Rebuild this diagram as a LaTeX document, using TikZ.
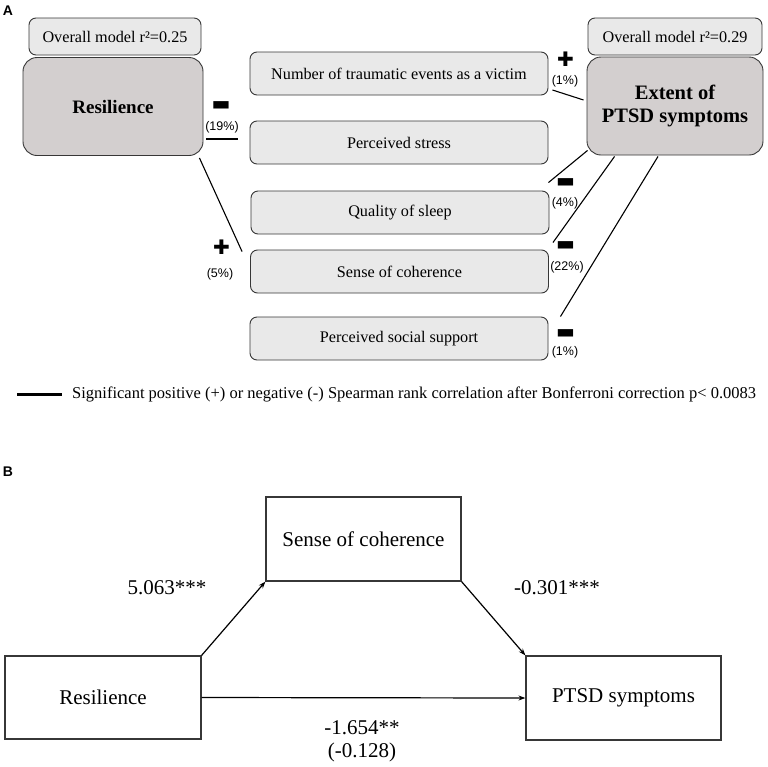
\documentclass[tikz,border=0pt]{standalone}
\usepackage{fontspec}
\setmainfont{Liberation Serif}
\setsansfont{Liberation Sans}
\newfontfamily\dejavu{DejaVu Sans}
\usetikzlibrary{calc,arrows.meta}
\definecolor{lightbox}{RGB}{233,233,233}
\definecolor{bigboxc}{RGB}{211,207,207}
\definecolor{edgegray}{RGB}{55,55,55}
\begin{document}
\begin{tikzpicture}[x=1pt,y=-1pt,
  abox/.style={draw=edgegray,line width=0.9pt,fill=lightbox,rounded corners=7pt,inner sep=0pt,
    font=\fontsize{16.2}{19}\selectfont,minimum height=43pt,minimum width=298pt},
  rbox/.style={draw=edgegray,line width=0.9pt,fill=lightbox,rounded corners=7pt,inner sep=0pt,
    font=\fontsize{16.2}{19}\selectfont,minimum height=37pt},
  bigbox/.style={draw=edgegray,line width=0.9pt,fill=bigboxc,rounded corners=14pt,inner sep=0pt,
    align=center,minimum height=98pt},
  conn/.style={line width=1.1pt},
  pct/.style={font=\sffamily\fontsize{12.5}{14}\selectfont,inner sep=0pt},
  sgn/.style={font=\dejavu\fontsize{20}{20}\selectfont,inner sep=0pt},
  panel/.style={font=\sffamily\bfseries\fontsize{14}{16}\selectfont,inner sep=0pt},
  bbox/.style={draw=edgegray,line width=1.2pt,fill=white,inner sep=0pt,
    font=\fontsize{21}{25}\selectfont,minimum width=195pt,minimum height=84pt},
  blabel/.style={font=\fontsize{21}{25}\selectfont,inner sep=0pt},
  arr/.style={line width=1.2pt,-{Stealth[length=7pt,width=5pt]}}
]
\fill[white] (0,0) rectangle (768,766);
\useasboundingbox (0,0) rectangle (768,766);

% ---------- Panel A ----------
\node[panel] (labA) at (8,11) {A};
\node[rbox,minimum width=172pt] (r1) at (115,36.5) {Overall model r²=0.25};
\node[bigbox,minimum width=180pt,font=\bfseries\fontsize{19}{23}\selectfont] (res) at (113,106.5) {Resilience};
\node[rbox,minimum width=174pt] (r2) at (675,36.5) {Overall model r²=0.29};
\node[bigbox,minimum width=176pt,font=\bfseries\fontsize{20.5}{23}\selectfont] (ptsd) at (675,106) {Extent of\\PTSD symptoms};

\node[abox] (n1) at (399,73.5) {Number of traumatic events as a victim};
\node[abox] (n2) at (399,142.5) {Perceived stress};
\node[abox] (n3) at (400,212.5) {Quality of sleep};
\node[abox] (n4) at (399.5,271.5) {Sense of coherence};
\node[abox] (n5) at (399,338.5) {Perceived social support};

% connectors
\draw[conn] ($(res.east)+(3,32.5)$) -- ($(n2.west)+(-12,-3.5)$);
\draw[conn] ($(res.south east)+(-4,2)$) -- ($(n4.north west)+(-8,2)$);
\draw[conn] ($(n1.east)+(4,16.5)$) -- ($(ptsd.west)+(-3,-6)$);
\draw[conn] ($(ptsd.south west)+(1,-5)$) -- ($(n3.north east)+(-1,-8)$);
\draw[conn] ($(ptsd.south west)+(28,1)$) -- ($(n4.north east)+(4,-7)$);
\draw[conn] ($(ptsd.south)+(-17,1)$) -- ($(n5.north east)+(12,0)$);

% signs and percentages
\node[sgn] (m1) at (221,106) {▬};
\node[pct] (p1) at (222,127) {(19\%)};
\node[sgn] (pl1) at (221.5,247.5) {✚};
\node[pct] (p2) at (220,274) {(5\%)};
\node[sgn] (pl2) at (565.5,59.5) {✚};
\node[pct] (p3) at (565,81) {(1\%)};
\node[sgn] (m2) at (565.5,183) {▬};
\node[pct] (p4) at (565,203) {(4\%)};
\node[sgn] (m3) at (565.5,246) {▬};
\node[pct] (p5) at (567,267) {(22\%)};
\node[sgn] (m4) at (565.5,334) {▬};
\node[pct] (p6) at (565,352) {(1\%)};

% legend
\coordinate (lg1) at (17,394.5);
\coordinate (lg2) at (62,394.5);
\draw[line width=3pt] (lg1) -- (lg2);
\node[anchor=west,inner sep=0pt,font=\fontsize{16.5}{19}\selectfont] (legend) at (72,394.5)
  {Significant positive (+) or negative (-) Spearman rank correlation after Bonferroni correction p< 0.0083};

% ---------- Panel B ----------
\node[panel] (labB) at (8,472) {B};
\node[bbox] (bsoc) at (363.5,539) {Sense of coherence};
\node[bbox,minimum width=196pt,minimum height=83pt] (bres) at (103,697.5) {Resilience};
\node[bbox] (bptsd) at (623.5,698) {PTSD symptoms};

\draw[arr] (bres.north east) -- (bsoc.south west);
\draw[arr] (bsoc.south east) -- (bptsd.north west);
\draw[arr] (bres.east) -- (bptsd.west);

\node[blabel] (la) at (167,588) {5.063***};
\node[blabel] (lb) at (557,588) {-0.301***};
\node[blabel] (lc) at (362,728) {-1.654**};
\node[blabel] (ld) at (362,752) {(-0.128)};
\end{tikzpicture}
\end{document}
